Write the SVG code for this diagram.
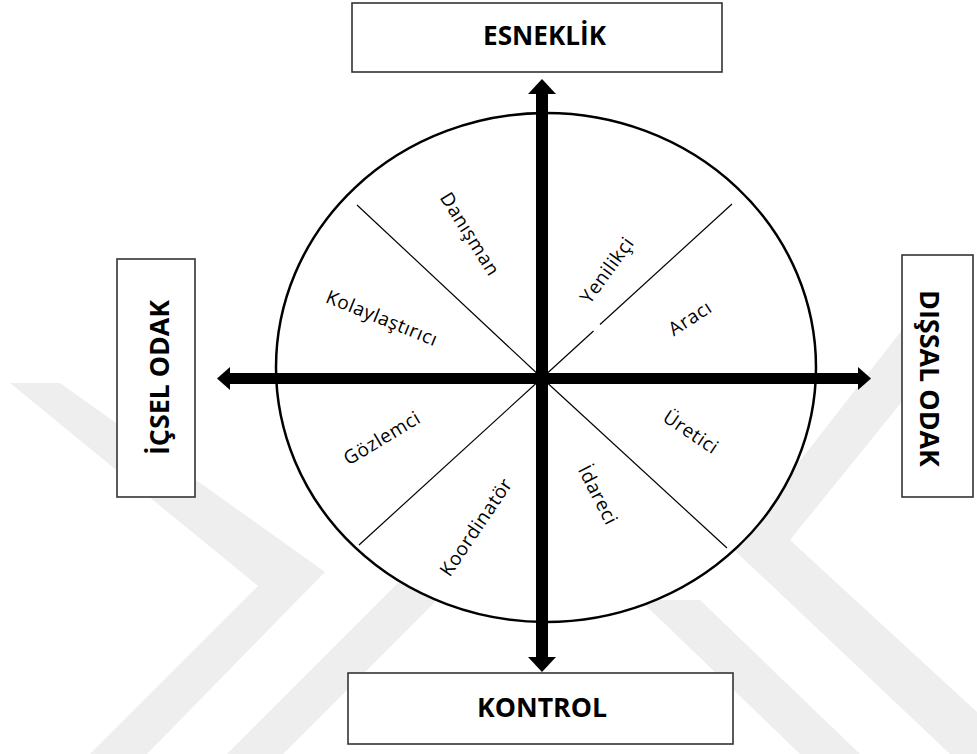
<svg xmlns="http://www.w3.org/2000/svg" width="977" height="754" viewBox="0 0 977 754">
  <defs>
    <style>
      .wm { fill: #eeeeee; }
      .box { fill: #ffffff; stroke: #333333; stroke-width: 1.6; }
      .title { font-family: "Open Sans", "Liberation Sans", sans-serif; font-weight: bold; font-size: 26px; fill: #000000; }
      .role { font-family: "Open Sans", "Liberation Sans", sans-serif; font-size: 19px; letter-spacing: 0.6px; fill: #000000; text-anchor: middle; }
      .axis { stroke: #000000; fill: none; }
      .divider { stroke: #000000; stroke-width: 1.2; fill: none; }
    </style>
    <marker id="headH" markerUnits="userSpaceOnUse" viewBox="0 -12 14 24" refX="0" refY="0" markerWidth="14" markerHeight="24" orient="auto-start-reverse">
      <path d="M0,-11.5 L13,0 L0,11.5 Z" fill="#000000"/>
    </marker>
    <marker id="headV" markerUnits="userSpaceOnUse" viewBox="0 -14 16 28" refX="0" refY="0" markerWidth="16" markerHeight="28" orient="auto-start-reverse">
      <path d="M0,-14 L15,0 L0,14 Z" fill="#000000"/>
    </marker>
  </defs>

  <rect width="977" height="754" fill="#ffffff"/>

  <!-- faint background chevrons -->
  <g id="watermark">
    <polygon class="wm" points="10,383 60,383 325,572 147,754 90,754 258,586"/>
    <polygon class="wm" points="227,754 283,754 520,517 464,517"/>
    <polygon class="wm" points="902,330 960,330 790,540 977,712 977,754 950,754 732,548"/>
    <polygon class="wm" points="640,600 700,600 860,754 800,754"/>
  </g>

  <!-- role wheel -->
  <g id="wheel">
    <ellipse cx="546" cy="367.5" rx="270" ry="254.5" fill="#ffffff" stroke="#000000" stroke-width="2.5"/>
  </g>

  <g id="connectors">
    <line class="divider" x1="357" y1="205" x2="542" y2="378"/>
    <line class="divider" x1="732" y1="204" x2="600" y2="324.5"/>
    <line class="divider" x1="593.5" y1="331" x2="542" y2="378"/>
    <line class="divider" x1="359" y1="545" x2="542" y2="378"/>
    <line class="divider" x1="727" y1="548" x2="542" y2="378"/>
    <line class="axis" x1="230" y1="378.5" x2="858" y2="378.5" stroke-width="11" marker-start="url(#headH)" marker-end="url(#headH)"/>
    <line class="axis" x1="542" y1="94" x2="542" y2="657" stroke-width="12" marker-start="url(#headV)" marker-end="url(#headV)"/>
  </g>

  <!-- quadrant roles -->
  <g id="roles">
    <text class="role" transform="translate(470,234) rotate(58)" dy="0.35em">Danışman</text>
    <text class="role" transform="translate(382,318) rotate(22)" dy="0.35em">Kolaylaştırıcı</text>
    <text class="role" transform="translate(607,270) rotate(-54)" dy="0.35em">Yenilikçi</text>
    <text class="role" transform="translate(690,318) rotate(-33)" dy="0.35em">Aracı</text>
    <text class="role" transform="translate(382,438) rotate(-31)" dy="0.35em">Gözlemci</text>
    <text class="role" transform="translate(476,527) rotate(-56)" dy="0.35em">Koordinatör</text>
    <text class="role" transform="translate(598,495) rotate(63)" dy="0.35em">İdareci</text>
    <text class="role" transform="translate(691,432) rotate(34)" dy="0.35em">Üretici</text>
  </g>

  <!-- axis end labels -->
  <g id="esneklik">
    <rect class="box" x="352" y="3" width="370" height="69"/>
    <text class="title" x="483" y="45" textLength="123" lengthAdjust="spacingAndGlyphs">ESNEKLİK</text>
  </g>
  <g id="kontrol">
    <rect class="box" x="348" y="673" width="385" height="71"/>
    <text class="title" x="477" y="717" textLength="130" lengthAdjust="spacingAndGlyphs">KONTROL</text>
  </g>
  <g id="icsel-odak">
    <rect class="box" x="117" y="259" width="78" height="238"/>
    <text class="title" transform="translate(169,455) rotate(-90)" textLength="155" lengthAdjust="spacingAndGlyphs">İÇSEL ODAK</text>
  </g>
  <g id="dissal-odak">
    <rect class="box" x="902" y="255" width="71" height="242"/>
    <text class="title" transform="translate(920,290) rotate(90)" textLength="177" lengthAdjust="spacingAndGlyphs">DIŞSAL ODAK</text>
  </g>
</svg>
